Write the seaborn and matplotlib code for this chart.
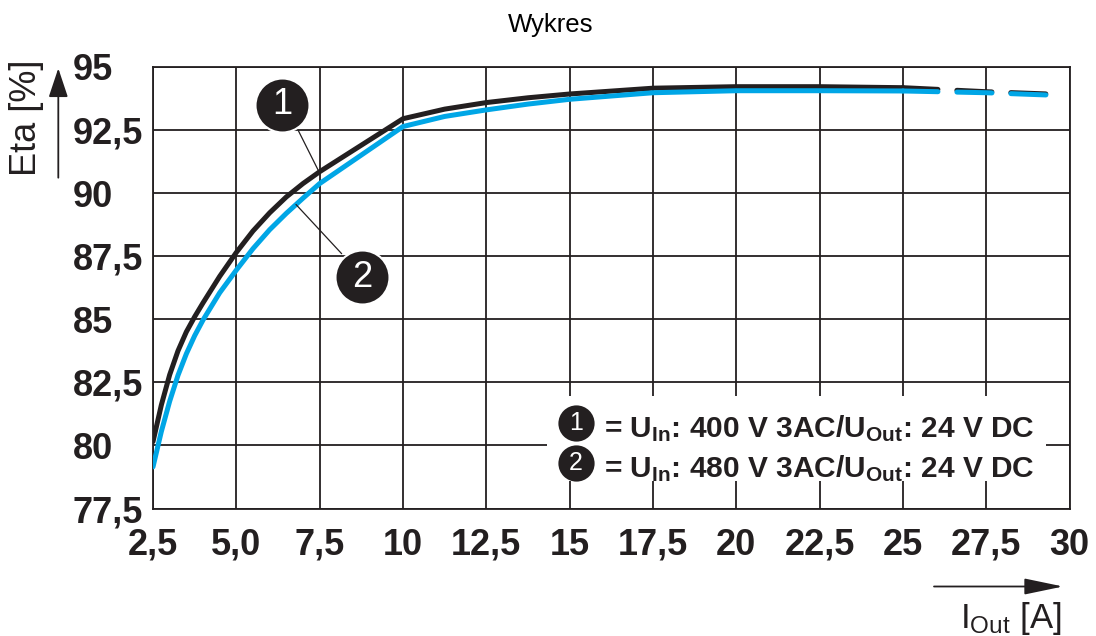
import matplotlib
matplotlib.use("Agg")
import matplotlib.pyplot as plt
import seaborn as sns
import pandas as pd
from matplotlib.patches import Rectangle

# ---- data ----
x_black = [2.5, 2.75, 3.0, 3.25, 3.5, 3.75, 4.0, 4.5, 5.0, 5.5, 6.0, 6.5, 7.0, 7.5,
           10.0, 11.25, 12.5, 13.75, 15.0, 17.5, 20.0, 22.5, 25.0]
y_black = [80.15, 81.6, 82.8, 83.75, 84.5, 85.1, 85.65, 86.7, 87.65, 88.5, 89.22, 89.85, 90.38, 90.85,
           92.95, 93.33, 93.59, 93.78, 93.93, 94.16, 94.22, 94.22, 94.18]
x_black_dash = [25.0, 27.5, 29.55]
y_black_dash = [94.18, 94.02, 93.92]

x_blue = [2.5, 2.75, 3.0, 3.25, 3.5, 3.75, 4.0, 4.5, 5.0, 5.5, 6.0, 6.5, 7.0, 7.5,
          10.0, 11.25, 12.5, 13.75, 15.0, 17.5, 20.0, 22.5, 25.0]
y_blue = [79.15, 80.55, 81.75, 82.78, 83.63, 84.35, 84.97, 86.05, 86.95, 87.8, 88.55, 89.2, 89.8, 90.38,
          92.64, 93.04, 93.3, 93.53, 93.72, 93.98, 94.06, 94.06, 94.05]
x_blue_dash = [25.0, 27.5, 29.55]
y_blue_dash = [94.05, 93.98, 93.88]

x_ticks = [2.5, 5.0, 7.5, 10, 12.5, 15, 17.5, 20, 22.5, 25, 27.5, 30]
x_tick_labels = ["2,5", "5,0", "7,5", "10", "12,5", "15", "17,5", "20", "22,5", "25", "27,5", "30"]
y_ticks = [77.5, 80, 82.5, 85, 87.5, 90, 92.5, 95]
y_tick_labels = ["77,5", "80", "82,5", "85", "87,5", "90", "92,5", "95"]

legend_lines = [r"= U$_\mathbf{In}$: 400 V 3AC/U$_\mathbf{Out}$: 24 V DC",
                r"= U$_\mathbf{In}$: 480 V 3AC/U$_\mathbf{Out}$: 24 V DC"]

BLACK = "#231f20"
BLUE = "#00a6e6"

sns.set_style("white")
plt.rcParams["font.family"] = ["Liberation Sans", "DejaVu Sans"]
plt.rcParams["mathtext.fontset"] = "custom"
plt.rcParams["mathtext.rm"] = "Liberation Sans"
plt.rcParams["mathtext.bf"] = "Liberation Sans:bold"
plt.rcParams["mathtext.it"] = "Liberation Sans"

W, H = 1096, 636
fig = plt.figure(figsize=(W / 100, H / 100), dpi=100)
ax = fig.add_axes([153 / W, 1 - 508.5 / H, (1069.6 - 153) / W, (508.5 - 67) / H])

df_b = pd.DataFrame({"x": x_black, "y": y_black})
df_bd = pd.DataFrame({"x": x_black_dash, "y": y_black_dash})
df_c = pd.DataFrame({"x": x_blue, "y": y_blue})
df_cd = pd.DataFrame({"x": x_blue_dash, "y": y_blue_dash})

lw = 3.6
sns.lineplot(data=df_b, x="x", y="y", ax=ax, color=BLACK, lw=lw, estimator=None, sort=False,
             solid_capstyle="round", solid_joinstyle="round", zorder=3)
sns.lineplot(data=df_bd, x="x", y="y", ax=ax, color=BLACK, lw=lw, estimator=None, sort=False,
             zorder=3)
sns.lineplot(data=df_c, x="x", y="y", ax=ax, color=BLUE, lw=lw, estimator=None, sort=False,
             solid_capstyle="round", solid_joinstyle="round", zorder=4)
sns.lineplot(data=df_cd, x="x", y="y", ax=ax, color=BLUE, lw=lw, estimator=None, sort=False,
             zorder=4)
lines = ax.get_lines()
for ln in (lines[1], lines[3]):
    ln.set_linestyle((0, (7.0, 3.8)))
    ln.set_dash_capstyle("round")

ax.set_xlim(2.5, 30)
ax.set_ylim(77.5, 95)
ax.set_xticks(x_ticks)
ax.set_xticklabels(x_tick_labels)
ax.set_yticks(y_ticks)
ax.set_yticklabels(y_tick_labels, ha="left")
ax.tick_params(axis="both", length=0, labelsize=26, colors=BLACK)
ax.tick_params(axis="x", pad=14)
ax.tick_params(axis="y", pad=57.6)
for lab in ax.get_xticklabels() + ax.get_yticklabels():
    lab.set_fontweight("bold")
ax.set_xlabel("")
ax.set_ylabel("")
ax.grid(True, color=BLACK, lw=1.3)
ax.set_axisbelow(True)
for sp in ax.spines.values():
    sp.set_color(BLACK)
    sp.set_linewidth(1.3)

# legend background box
ax.add_patch(Rectangle(((547 - 153) / (1069.6 - 153), (508.5 - 481) / (508.5 - 67)),
                       (1046 - 547) / (1069.6 - 153), (481 - 396) / (508.5 - 67),
                       transform=ax.transAxes, facecolor="white", edgecolor="none", zorder=2))

# legend circles + text
for i, (cy, by) in enumerate([(80.89, 80.32), (79.31, 78.75)]):
    ax.scatter([15.18], [cy], s=680, color=BLACK, zorder=6, linewidths=0)
    ax.text(15.18, cy, str(i + 1), color="white", fontsize=18, ha="center", va="center", zorder=7)
    ax.text(16.03, by, legend_lines[i], color=BLACK, fontsize=21.5, fontweight="bold",
            ha="left", va="baseline", zorder=7)

# callout circles with leader lines
ax.plot([6.86, 7.49], [92.48, 90.82], color=BLACK, lw=0.9, zorder=5)
ax.plot([6.79, 8.16], [89.55, 87.6], color=BLACK, lw=0.9, zorder=5)
for (cx, cy, t) in [(6.38, 93.5, "1"), (8.77, 86.66, "2")]:
    ax.scatter([cx], [cy], s=1512, color=BLACK, edgecolors="white", linewidths=1.5, zorder=6)
    ax.text(cx, cy, t, color="white", fontsize=26, ha="center", va="center", zorder=7)

# title and axis labels
fig.text(551 / W, 1 - 25 / H, "Wykres", fontsize=18.5, ha="center", va="center", color="black")
fig.text(27 / W, 1 - 118 / H, "Eta [%]", fontsize=26, rotation=90, ha="center", va="center",
         color=BLACK)
fig.text(1062 / W, 1 - 628 / H, r"I$_\mathrm{Out}$ [A]", fontsize=25, ha="right", va="baseline",
         color=BLACK)

# axis arrows
ax.annotate("", xy=(1063 / W, 1 - 586.5 / H), xytext=(934 / W, 1 - 586.5 / H),
            xycoords="figure fraction", textcoords="figure fraction",
            arrowprops=dict(arrowstyle="-|>,head_length=2.4,head_width=0.5", color=BLACK,
                            lw=1.3, mutation_scale=10, shrinkA=0, shrinkB=0))
ax.annotate("", xy=(58.3 / W, 1 - 68.3 / H), xytext=(58.3 / W, 1 - 177.7 / H),
            xycoords="figure fraction", textcoords="figure fraction",
            arrowprops=dict(arrowstyle="-|>,head_length=1.8,head_width=0.6", color=BLACK,
                            lw=1.3, mutation_scale=10, shrinkA=0, shrinkB=0))

fig.savefig("out.png", dpi=100)
